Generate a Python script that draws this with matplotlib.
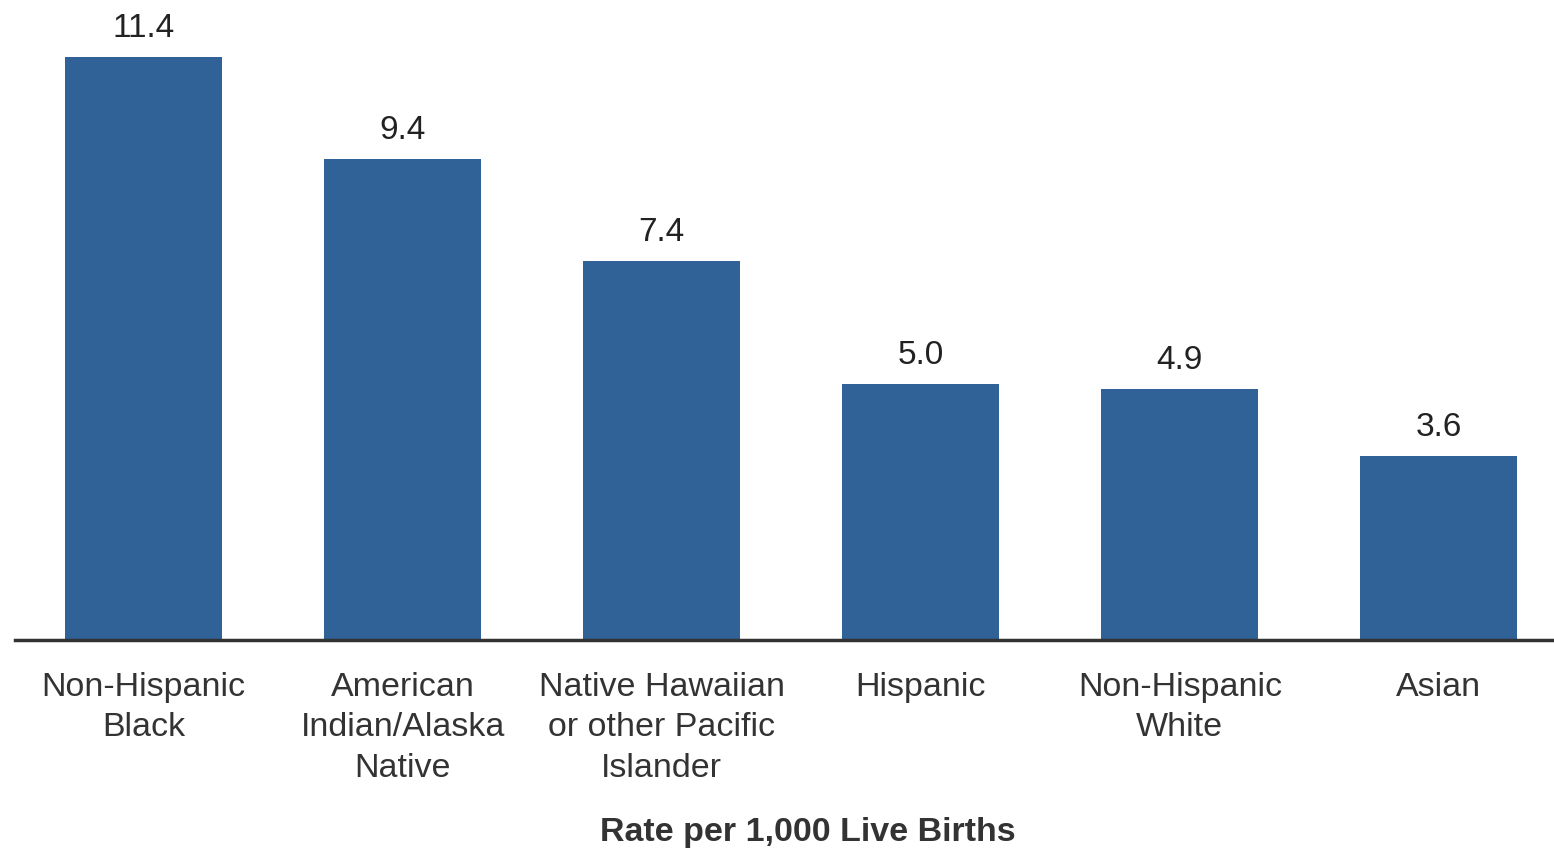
import matplotlib
matplotlib.use("Agg")
import matplotlib.pyplot as plt

categories = ["Non-Hispanic\nBlack", "American\nIndian/Alaska\nNative",
              "Native Hawaiian\nor other Pacific\nIslander", "Hispanic",
              "Non-Hispanic\nWhite", "Asian"]
rates = [11.4, 9.4, 7.4, 5.0, 4.9, 3.6]
value_labels = ["11.4", "9.4", "7.4", "5.0", "4.9", "3.6"]

plt.rcParams['font.family'] = ['Liberation Sans', 'DejaVu Sans']

fig = plt.figure(figsize=(15.54, 8.55), dpi=100)
ax = fig.add_axes([15 / 1554, 215 / 855, 1 - 15 / 1554, 640 / 855])

x = range(len(rates))
ax.bar(x, rates, width=0.606, color='#306197')

# value labels above each bar
for xi, v, lab in zip(x, rates, value_labels):
    ax.annotate(lab, (xi, v), xytext=(0, 20.5), textcoords='offset points',
                ha='center', va='center', fontsize=24, color='#222222')

ax.set_xlim(-0.496, 5.444)
ax.set_ylim(0, 12.51)
ax.set_xticks(list(x))
ax.set_xticklabels(categories, fontsize=24.5, color='#333333', linespacing=1.39, va='top')
ax.tick_params(axis='x', length=0, pad=23)
ax.set_yticks([])
for s in ['top', 'right', 'left']:
    ax.spines[s].set_visible(False)
ax.spines['bottom'].set_linewidth(2.5)
ax.spines['bottom'].set_color('#333333')

fig.text(808 / 1554, 1 - 832 / 855, "Rate per 1,000 Live Births", ha='center', va='center',
         fontsize=24.5, fontweight='bold', color='#333333')

fig.savefig("out.png", dpi=100)
